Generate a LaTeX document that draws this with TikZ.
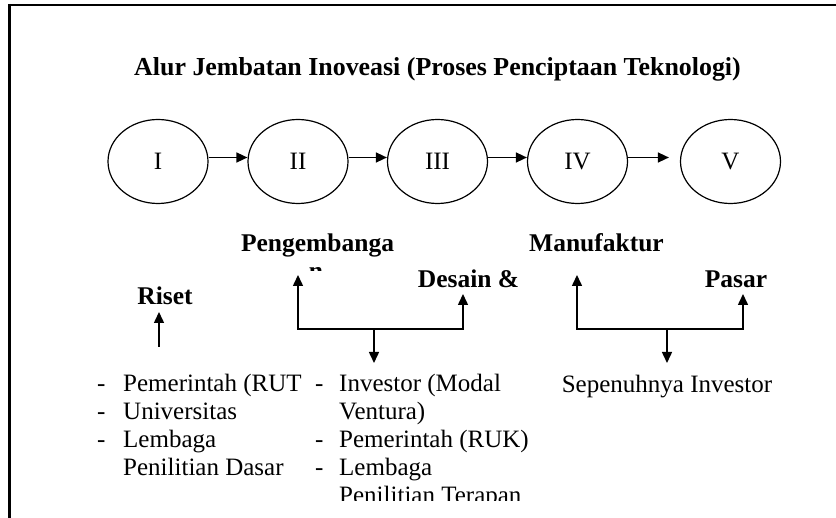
\documentclass[tikz,border=0pt]{standalone}
\usepackage{fontspec}
\setmainfont{Liberation Serif}
\usetikzlibrary{arrows.meta,shapes.geometric}
\begin{document}
\begin{tikzpicture}[x=1pt,y=-1pt,
  stage/.style={draw,line width=1.2pt,ellipse,minimum width=100pt,minimum height=84pt,
                inner sep=0pt,font=\fontsize{25}{28}\selectfont},
  phase/.style={anchor=base,inner sep=0pt,font=\fontsize{25.5}{28}\selectfont\bfseries},
  item/.style={anchor=base west,inner sep=0pt,font=\fontsize{25}{28}\selectfont},
  arr/.style={line width=1.5pt,-{Triangle[length=11pt,width=10pt]}},
  link/.style={line width=1.5pt}]
\useasboundingbox (0,0) rectangle (836,518);

% frame (top and left edges)
\draw[line width=2pt] (8,5) -- (836,5);
\draw[line width=3pt] (9.5,4) -- (9.5,518);

% title
\node[phase,font=\fontsize{25.9}{28}\selectfont\bfseries] (title) at (437.5,76)
  {Alur Jembatan Inoveasi (Proses Penciptaan Teknologi)};

% stages
\node[stage] (s1) at (158,161.5) {I};
\node[stage] (s2) at (298,161.5) {II};
\node[stage] (s3) at (437.5,161.5) {III};
\node[stage] (s4) at (577.5,161.5) {IV};
\node[stage] (s5) at (730.5,161.5) {V};

\draw[arr] ([yshift=4pt]s1.east) -- ([yshift=4pt]s2.west);
\draw[arr] ([yshift=4pt]s2.east) -- ([yshift=4pt]s3.west);
\draw[arr] ([yshift=4pt]s3.east) -- ([yshift=4pt]s4.west);
\draw[arr] ([yshift=4pt]s4.east) -- ([yshift=4pt,xshift=-11pt]s5.west);

% phase labels
\node[phase] (dev) at (317.5,252) {Pengembanga};
\begin{scope}
  \clip (290,255) rectangle (345,271);
  \node[phase] (devn) at (316,280) {n};
\end{scope}
\node[phase] (design) at (468.5,288) {Desain \&};
\node[phase] (riset) at (165,305) {Riset};
\node[phase] (manu) at (596.5,252) {Manufaktur};
\node[phase] (pasar) at (736,288) {Pasar};

% research arrow
\coordinate (rbase) at (159,347);
\coordinate (rtip) at (159,312);
\draw[arr] (rbase) -- (rtip);

% development / design bracket
\coordinate (dL) at (298,329);
\coordinate (dLtip) at (298,275);
\coordinate (dR) at (463,329);
\coordinate (dRtip) at (463,294);
\coordinate (dM) at (374,329);
\coordinate (dMtip) at (374,363);
\draw[arr] (dM) -- (dL) -- (dLtip);
\draw[arr] (dM) -- (dR) -- (dRtip);
\draw[arr] (dM) -- (dMtip);

% manufacturing / market bracket
\coordinate (mL) at (577,329);
\coordinate (mLtip) at (577,275);
\coordinate (mR) at (743,329);
\coordinate (mRtip) at (743,294);
\coordinate (mM) at (667,329);
\coordinate (mMtip) at (667,363);
\draw[arr] (mM) -- (mL) -- (mLtip);
\draw[arr] (mM) -- (mR) -- (mRtip);
\draw[arr] (mM) -- (mMtip);

% research actors
\node[item] (a1d) at (97,392) {-};
\node[item] (a1) at (123,392) {Pemerintah (RUT};
\node[item] (a2d) at (97,420) {-};
\node[item] (a2) at (123,420) {Universitas};
\node[item] (a3d) at (97,448) {-};
\node[item] (a3) at (123,448) {Lembaga};
\node[item] (a4) at (123,476) {Penilitian Dasar};

% development actors
\node[item] (b1d) at (315,392) {-};
\node[item] (b1) at (339,392) {Investor (Modal};
\node[item] (b2) at (339,420) {Ventura)};
\node[item] (b3d) at (315,448) {-};
\node[item] (b3) at (339,448) {Pemerintah (RUK)};
\node[item] (b4d) at (315,476) {-};
\node[item] (b4) at (339,476) {Lembaga};
\begin{scope}
  \clip (330,480) rectangle (580,501);
  \node[item] (b5) at (339,504) {Penilitian Terapan};
\end{scope}

% market actors
\node[anchor=base,inner sep=0pt,font=\fontsize{25}{28}\selectfont] (c1) at (667,393)
  {Sepenuhnya Investor};
\end{tikzpicture}
\end{document}
